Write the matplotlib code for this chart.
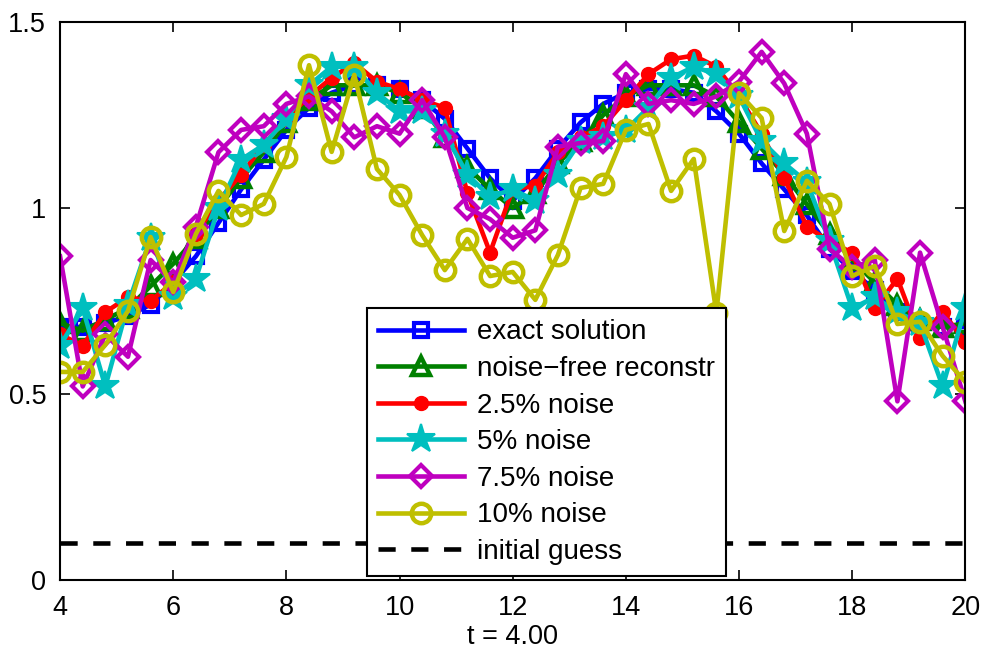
import numpy as np
import matplotlib
matplotlib.use("Agg")
import matplotlib.pyplot as plt

plt.rcParams['font.family'] = ['Liberation Sans', 'DejaVu Sans']

t = [4.0, 4.4, 4.8, 5.2, 5.6, 6.0, 6.4, 6.8, 7.2, 7.6, 8.0, 8.4, 8.8, 9.2, 9.6,
     10.0, 10.4, 10.8, 11.2, 11.6, 12.0, 12.4, 12.8, 13.2, 13.6, 14.0, 14.4,
     14.8, 15.2, 15.6, 16.0, 16.4, 16.8, 17.2, 17.6, 18.0, 18.4, 18.8, 19.2,
     19.6, 20.0]

exact = [0.68, 0.68, 0.69, 0.71, 0.74, 0.80, 0.87, 0.96, 1.05, 1.13, 1.21,
         1.27, 1.31, 1.33, 1.33, 1.32, 1.29, 1.24, 1.16, 1.08, 1.02, 1.08,
         1.16, 1.23, 1.28, 1.31, 1.32, 1.32, 1.31, 1.26, 1.20, 1.12, 1.05,
         0.98, 0.89, 0.83, 0.78, 0.72, 0.69, 0.68, 0.68]

noise_free = [0.69, 0.67, 0.70, 0.73, 0.79, 0.85, 0.92, 1.00, 1.08, 1.15,
              1.23, 1.29, 1.33, 1.33, 1.33, 1.31, 1.27, 1.19, 1.11, 1.05,
              1.00, 1.04, 1.12, 1.18, 1.25, 1.30, 1.33, 1.33, 1.33, 1.30,
              1.23, 1.16, 1.09, 1.01, 0.93, 0.86, 0.80, 0.74, 0.70, 0.68,
              0.69]

noise_25 = [0.66, 0.63, 0.72, 0.76, 0.75, 0.80, 0.93, 1.02, 1.09, 1.17, 1.24,
            1.30, 1.35, 1.39, 1.34, 1.32, 1.29, 1.27, 1.04, 0.88, 1.05, 1.06,
            1.15, 1.19, 1.22, 1.29, 1.36, 1.40, 1.41, 1.38, 1.30, 1.20, 1.08,
            0.95, 0.91, 0.88, 0.73, 0.81, 0.65, 0.72, 0.64]

noise_5 = [0.63, 0.73, 0.52, 0.74, 0.92, 0.76, 0.81, 1.00, 1.13, 1.17, 1.24,
           1.33, 1.38, 1.38, 1.31, 1.26, 1.26, 1.20, 1.09, 1.03, 1.05, 1.02,
           1.09, 1.18, 1.19, 1.21, 1.27, 1.35, 1.38, 1.36, 1.30, 1.18, 1.12,
           1.07, 0.91, 0.73, 0.76, 0.72, 0.69, 0.52, 0.73]

noise_75 = [0.87, 0.52, 0.66, 0.60, 0.86, 0.80, 0.95, 1.15, 1.21, 1.22, 1.28,
            1.30, 1.26, 1.19, 1.22, 1.20, 1.29, 1.19, 1.00, 0.97, 0.92, 0.94,
            1.165, 1.175, 1.18, 1.36, 1.28, 1.29, 1.28, 1.30, 1.34, 1.42,
            1.335, 1.20, 0.89, 0.84, 0.86, 0.48, 0.88, 0.68, 0.48]

noise_10 = [0.559, 0.559, 0.632, 0.723, 0.922, 0.774, 0.930, 1.046, 0.981,
            1.011, 1.137, 1.384, 1.151, 1.358, 1.105, 1.035, 0.927, 0.833,
            0.917, 0.817, 0.828, 0.753, 0.874, 1.054, 1.065, 1.210, 1.226,
            1.046, 1.132, 0.718, 1.309, 1.242, 0.938, 1.073, 1.011, 0.817,
            0.844, 0.688, 0.694, 0.602, 0.532]

initial_t = [4.0, 20.0]
initial_guess = [0.1, 0.1]

labels = ['exact solution', 'noise\u2212free reconstr', '2.5% noise',
          '5% noise', '7.5% noise', '10% noise', 'initial guess']

fig = plt.figure(figsize=(9.85, 6.5), dpi=100)
ax = fig.add_axes([0.061, 0.108, 0.919, 0.858])

lw = 3.3
ax.plot(t, exact, color=(0, 0, 1), lw=lw, marker='s', ms=10, mfc='none',
        mew=3, label=labels[0])
ax.plot(t, noise_free, color=(0, 0.5, 0), lw=lw, marker='^', ms=13,
        mfc='none', mew=3.2, label=labels[1])
ax.plot(t, noise_25, color=(1, 0, 0), lw=lw, marker='o', ms=10,
        mfc=(1, 0, 0), mew=1, label=labels[2])
ax.plot(t, noise_5, color=(0, 0.75, 0.75), lw=lw, marker='*', ms=21,
        mfc=(0, 0.75, 0.75), mew=1.5, label=labels[3])
ax.plot(t, noise_75, color=(0.75, 0, 0.75), lw=lw, marker='D', ms=11,
        mfc='none', mew=3, label=labels[4])
ax.plot(t, noise_10, color=(0.75, 0.75, 0), lw=lw, marker='o', ms=14,
        mfc='none', mew=3.2, label=labels[5])
ax.plot(initial_t, initial_guess, color='k', lw=lw, ls='--',
        dashes=(3.75, 3.4), label=labels[6])

ax.set_xlim(4, 20)
ax.set_ylim(0, 1.5)
ax.set_xticks([4, 6, 8, 10, 12, 14, 16, 18, 20])
ax.set_yticks([0, 0.5, 1, 1.5])
ax.set_yticklabels(['0', '0.5', '1', '1.5'])
ax.tick_params(direction='in', length=7, width=1.2, top=True, right=True,
               labelsize=19.5)
ax.tick_params(axis='x', pad=11)
ax.tick_params(axis='y', pad=10)
for s in ax.spines.values():
    s.set_linewidth(1.5)
ax.set_xlabel('t = 4.00', fontsize=19.5, labelpad=2)

leg = ax.legend(loc='lower left', bbox_to_anchor=(0.339, 0.007),
                borderaxespad=0, fontsize=20, handlelength=3.1,
                handletextpad=0.45, labelspacing=0.38, borderpad=0.4,
                fancybox=False, framealpha=1, edgecolor='k')
leg.get_frame().set_linewidth(1.5)

fig.savefig('out.png', dpi=100)
